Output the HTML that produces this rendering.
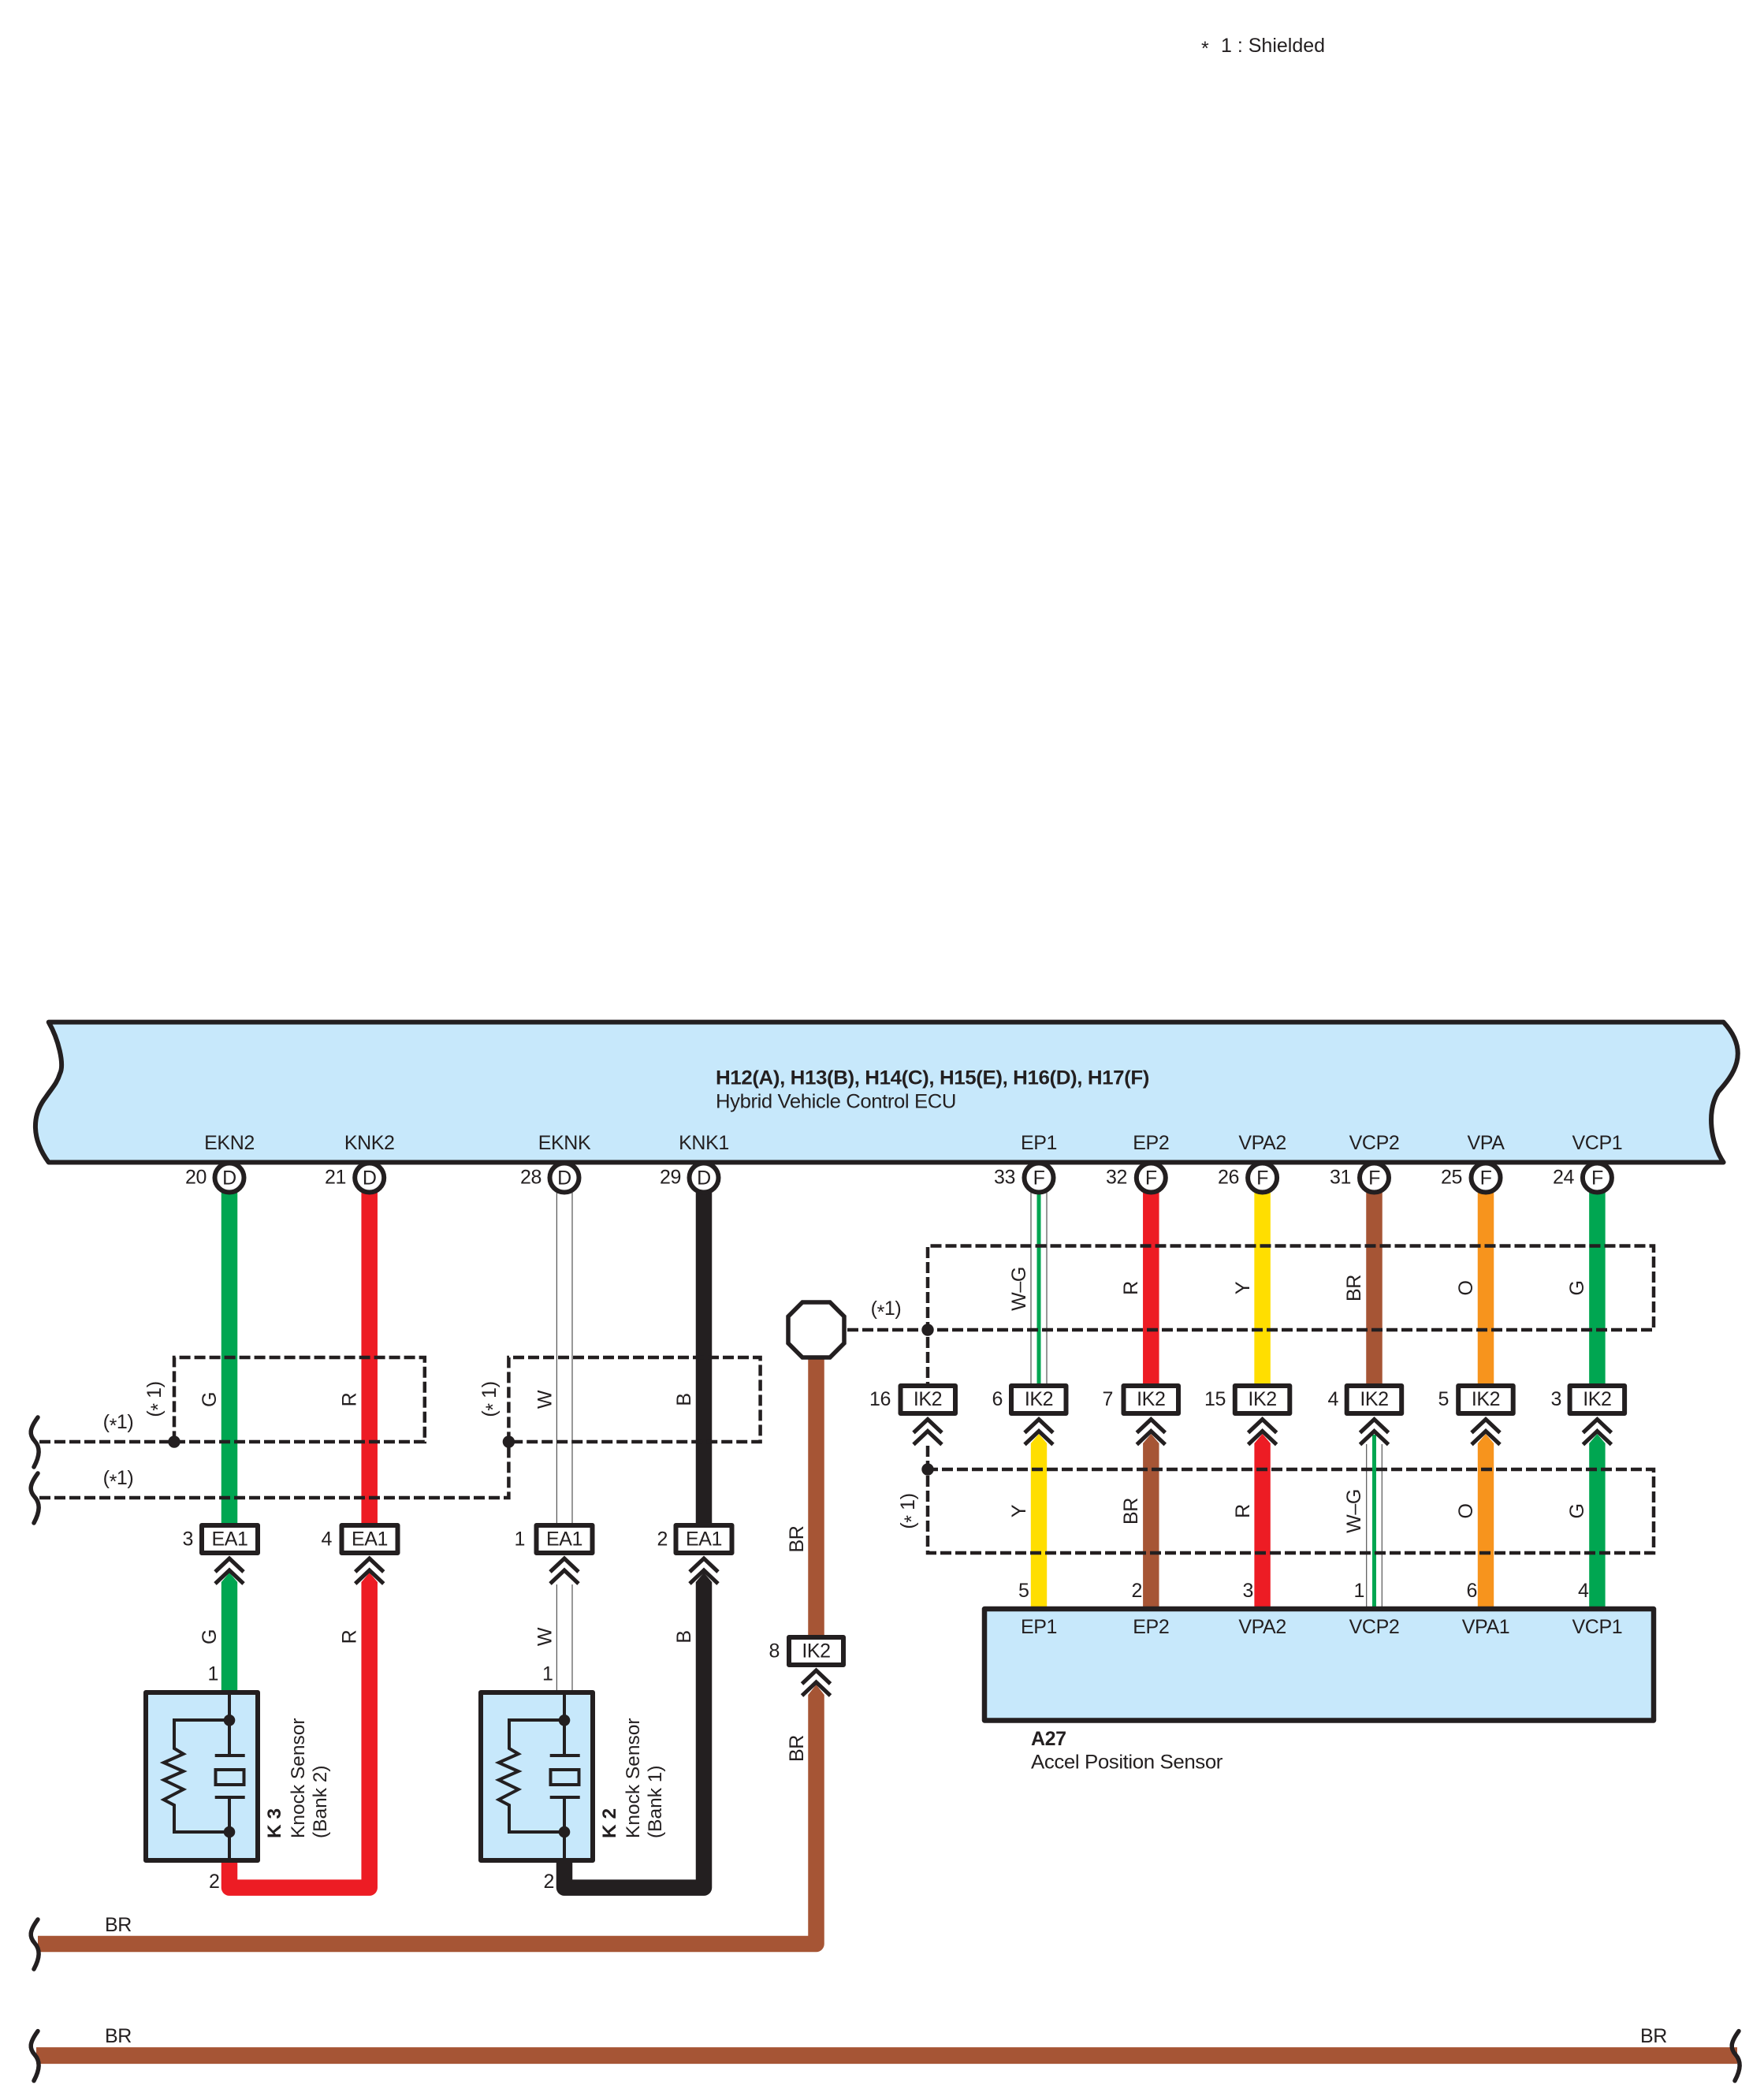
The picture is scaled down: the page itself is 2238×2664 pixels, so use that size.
<!DOCTYPE html>
<html><head><meta charset="utf-8">
<style>
html,body{margin:0;padding:0;background:#fff;width:2238px;height:2664px;overflow:hidden}
svg{display:block}
text{font-family:"Liberation Sans",sans-serif;font-size:25px;letter-spacing:-0.4px;fill:#231f20}
.m{text-anchor:middle}.e{text-anchor:end}.b{font-weight:bold}
.n{font-size:24.5px;letter-spacing:0}
.d{fill:none;stroke:#231f20;stroke-width:4.5;stroke-dasharray:14 5}
.box{fill:#fff;stroke:#231f20;stroke-width:6;stroke-linejoin:round}
.ring{fill:#fff;stroke:#231f20;stroke-width:6}
.c{fill:none;stroke:#231f20;stroke-width:5}
.w{fill:none;stroke-width:20.5}
.t{stroke:#555;stroke-width:1.2;fill:none}
.l{fill:none;stroke:#231f20;stroke-width:4}
.br{fill:none;stroke:#231f20;stroke-width:5.5;stroke-linecap:round}
</style></head><body>
<svg xmlns="http://www.w3.org/2000/svg" width="2238" height="2664" viewBox="0 0 2238 2664">
<defs>
<g id="ch"><polyline class="c" points="-18,17 0,0 18,17"/><polyline class="c" points="-18,32 0,15 18,32"/></g>
<path id="brace" class="br" d="M2 -31 C-9 -16 -9 -9 -2 -1 C5 7 5 17 -3 32"/>
<g id="ksensor">
<rect x="185" y="2147" width="142" height="213" fill="#c7e8fb" stroke="#231f20" stroke-width="6" stroke-linejoin="round"/>
<path class="l" d="M291 2147V2227M272.7 2227H310.7M291 2280V2360M272.7 2280H310.7"/>
<rect class="l" x="273.5" y="2245" width="36" height="19"/>
<path class="l" d="M291 2182H221V2218L232.7 2225L207.7 2236L232.7 2247L207.7 2258L232.7 2270L207.7 2283L221 2290V2324H291"/>
<circle cx="291" cy="2182.3" r="7.3" fill="#231f20"/><circle cx="291" cy="2324" r="7.3" fill="#231f20"/>
</g>
</defs>

<!-- ECU -->
<path d="M61.7 1296.6 C74 1318 82 1350 76 1362 C72 1375 66 1380 58 1392 C40 1415 40 1445 61.7 1474.5 H2186.6 C2170 1450 2165 1410 2180 1385 C2198 1365 2222 1335 2186.6 1296.6 Z" fill="#c7e8fb" stroke="#231f20" stroke-width="6" stroke-linejoin="round"/>
<text class="b" x="908" y="1375.5" textLength="550" lengthAdjust="spacingAndGlyphs">H12(A), H13(B), H14(C), H15(E), H16(D), H17(F)</text>
<text x="908" y="1405.5" textLength="305" lengthAdjust="spacingAndGlyphs">Hybrid Vehicle Control ECU</text>
<text x="1524" y="70" style="font-size:25px">*</text>
<text x="1549" y="66" style="letter-spacing:0">1 : Shielded</text>

<!-- upper wires -->
<path class="w" stroke="#00a651" d="M291 1510V1934"/>
<path class="w" stroke="#ed1c24" d="M468.7 1510V1934"/>
<path class="w" stroke="#231f20" d="M893 1510V1934"/>
<path class="t" d="M706.4 1510V1934M726 1510V1934"/>
<path class="t" d="M1308 1510V1758M1328 1510V1758"/>
<path d="M1318 1510V1758" stroke="#00a651" stroke-width="5" fill="none"/>
<path class="w" stroke="#ed1c24" d="M1460.3 1510V1758"/>
<path class="w" stroke="#ffde00" d="M1601.6 1510V1758"/>
<path class="w" stroke="#a65535" d="M1743.5 1510V1758"/>
<path class="w" stroke="#f7941d" d="M1885 1510V1758"/>
<path class="w" stroke="#00a651" d="M2026.4 1510V1758"/>
<!-- brown drop -->
<path class="w" stroke="#a65535" d="M1035.5 1720V2078"/>

<!-- lower left wires -->
<path d="M280.8 2147V2007L291 1995L301.2 2007V2147Z" fill="#00a651"/>
<path class="w" stroke="#ed1c24" stroke-linejoin="round" d="M291 2358V2394.6H468.7V2007"/>
<polygon points="458.5,2007 468.7,1995 478.9,2007" fill="#ed1c24"/>
<path class="w" stroke="#231f20" stroke-linejoin="round" d="M716 2358V2394.6H893V2007"/>
<polygon points="882.8,2007 893,1995 903.2,2007" fill="#231f20"/>
<path class="t" d="M706.4 2010V2147M726 2010V2147"/>
<path class="w" stroke="#a65535" stroke-linejoin="round" stroke-width="21" d="M48 2466H1035.5V2150"/>
<polygon points="1025.3,2150 1035.5,2137 1045.7,2150" fill="#a65535"/>
<path d="M46 2607.6H2204" stroke="#a65535" stroke-width="21" fill="none"/>

<!-- lower right wires -->
<path d="M1307.8 2043V1831L1318 1819L1328.2 1831V2043Z" fill="#ffde00"/>
<path d="M1450.1 2043V1831L1460.3 1819L1470.5 1831V2043Z" fill="#a65535"/>
<path d="M1591.4 2043V1831L1601.6 1819L1611.8 1831V2043Z" fill="#ed1c24"/>
<path class="t" d="M1733.7 1832V2041M1753.3 1832V2041"/>
<path d="M1743.5 1820V2041" stroke="#00a651" stroke-width="5" fill="none"/>
<path d="M1874.8 2043V1831L1885 1819L1895.2 1831V2043Z" fill="#f7941d"/>
<path d="M2016.2 2043V1831L2026.4 1819L2036.6 1831V2043Z" fill="#00a651"/>

<!-- dashed shields -->
<path class="d" d="M50 1829H538.8V1722H221V1829"/>
<path class="d" d="M50 1900H645.4V1722H964.6V1829H645.4"/>
<path class="d" d="M1075 1687H2098V1580.5H1177V1756"/>
<path class="d" d="M1177 1834V1970H2098V1864H1177"/>
<circle cx="221" cy="1829" r="7.7" fill="#231f20"/>
<circle cx="645.4" cy="1829" r="7.7" fill="#231f20"/>
<circle cx="1177" cy="1687" r="7.7" fill="#231f20"/>
<circle cx="1177" cy="1864" r="7.7" fill="#231f20"/>

<!-- braces -->
<use href="#brace" x="46" y="1829"/>
<use href="#brace" x="46" y="1900"/>
<use href="#brace" x="46" y="2466"/>
<use href="#brace" x="46" y="2607.6"/>
<use href="#brace" x="2204" y="2607.6"/>

<!-- octagon -->
<polygon points="1018,1652 1053,1652 1071,1670 1071,1704 1053,1722 1018,1722 1000,1704 1000,1670" fill="#fff" stroke="#231f20" stroke-width="5.5" stroke-linejoin="miter"/>

<!-- ECU pin rings -->
<circle class="ring" cx="291" cy="1494" r="18.5"/><circle class="ring" cx="468.7" cy="1494" r="18.5"/>
<circle class="ring" cx="716" cy="1494" r="18.5"/><circle class="ring" cx="893" cy="1494" r="18.5"/>
<circle class="ring" cx="1318" cy="1494" r="18.5"/><circle class="ring" cx="1460.3" cy="1494" r="18.5"/>
<circle class="ring" cx="1601.6" cy="1494" r="18.5"/><circle class="ring" cx="1743.5" cy="1494" r="18.5"/>
<circle class="ring" cx="1885" cy="1494" r="18.5"/><circle class="ring" cx="2026.4" cy="1494" r="18.5"/>
<path d="M61.7 1474.5H2186.6" stroke="#231f20" stroke-width="6" fill="none"/>

<text class="m" x="291" y="1458">EKN2</text><text class="m" x="468.7" y="1458">KNK2</text>
<text class="m" x="716" y="1458">EKNK</text><text class="m" x="893" y="1458">KNK1</text>
<text class="m" x="1318" y="1458">EP1</text><text class="m" x="1460.3" y="1458">EP2</text>
<text class="m" x="1601.6" y="1458">VPA2</text><text class="m" x="1743.5" y="1458">VCP2</text>
<text class="m" x="1885" y="1458">VPA</text><text class="m" x="2026.4" y="1458">VCP1</text>

<text class="m" x="291" y="1502.5">D</text><text class="m" x="468.7" y="1502.5">D</text>
<text class="m" x="716" y="1502.5">D</text><text class="m" x="893" y="1502.5">D</text>
<text class="m" x="1318" y="1502.5">F</text><text class="m" x="1460.3" y="1502.5">F</text>
<text class="m" x="1601.6" y="1502.5">F</text><text class="m" x="1743.5" y="1502.5">F</text>
<text class="m" x="1885" y="1502.5">F</text><text class="m" x="2026.4" y="1502.5">F</text>

<text class="e" x="262" y="1501.5">20</text><text class="e" x="439" y="1501.5">21</text>
<text class="e" x="687" y="1501.5">28</text><text class="e" x="864" y="1501.5">29</text>
<text class="e" x="1288" y="1501.5">33</text><text class="e" x="1430" y="1501.5">32</text>
<text class="e" x="1572" y="1501.5">26</text><text class="e" x="1714" y="1501.5">31</text>
<text class="e" x="1855" y="1501.5">25</text><text class="e" x="1997" y="1501.5">24</text>

<!-- EA1 connectors -->
<rect class="box" x="256" y="1935" width="71" height="35"/><rect class="box" x="433.5" y="1935" width="71" height="35"/>
<rect class="box" x="680.5" y="1935" width="71" height="35"/><rect class="box" x="857.5" y="1935" width="71" height="35"/>
<text class="m" x="291.5" y="1960.5">EA1</text><text class="m" x="469" y="1960.5">EA1</text>
<text class="m" x="716" y="1960.5">EA1</text><text class="m" x="893" y="1960.5">EA1</text>
<text class="e" x="245" y="1960.5">3</text><text class="e" x="421" y="1960.5">4</text>
<text class="e" x="666" y="1960.5">1</text><text class="e" x="847" y="1960.5">2</text>
<use href="#ch" x="291" y="1977"/><use href="#ch" x="468.7" y="1977"/>
<use href="#ch" x="716" y="1977"/><use href="#ch" x="893" y="1977"/>

<!-- IK2 connectors -->
<rect class="box" x="1142.5" y="1758" width="69.5" height="35"/>
<rect class="box" x="1283" y="1758" width="69.5" height="35"/>
<rect class="box" x="1425.5" y="1758" width="69.5" height="35"/>
<rect class="box" x="1566.8" y="1758" width="69.5" height="35"/>
<rect class="box" x="1708.7" y="1758" width="69.5" height="35"/>
<rect class="box" x="1850.2" y="1758" width="69.5" height="35"/>
<rect class="box" x="1991.6" y="1758" width="69.5" height="35"/>
<rect class="box" x="1001" y="2077" width="69" height="35"/>
<text class="m" x="1177" y="1783">IK2</text><text class="m" x="1318" y="1783">IK2</text>
<text class="m" x="1460.3" y="1783">IK2</text><text class="m" x="1601.6" y="1783">IK2</text>
<text class="m" x="1743.5" y="1783">IK2</text><text class="m" x="1885" y="1783">IK2</text>
<text class="m" x="2026.4" y="1783">IK2</text><text class="m" x="1035.5" y="2102.5">IK2</text>
<text class="e" x="1130" y="1783">16</text><text class="e" x="1272" y="1783">6</text>
<text class="e" x="1412" y="1783">7</text><text class="e" x="1555" y="1783">15</text>
<text class="e" x="1698" y="1783">4</text><text class="e" x="1838" y="1783">5</text>
<text class="e" x="1981" y="1783">3</text><text class="e" x="989" y="2102.5">8</text>
<use href="#ch" x="1177" y="1800.5"/><use href="#ch" x="1318" y="1800.5"/>
<use href="#ch" x="1460.3" y="1800.5"/><use href="#ch" x="1601.6" y="1800.5"/>
<use href="#ch" x="1743.5" y="1800.5"/><use href="#ch" x="1885" y="1800.5"/>
<use href="#ch" x="2026.4" y="1800.5"/><use href="#ch" x="1035.5" y="2119"/>

<!-- sensors -->
<use href="#ksensor"/>
<use href="#ksensor" x="425"/>
<text class="b n" transform="translate(356,2332) rotate(-90)">K 3</text>
<text class="n" transform="translate(386,2332) rotate(-90)">Knock Sensor</text>
<text class="n" transform="translate(414,2332) rotate(-90)">(Bank 2)</text>
<text class="b n" transform="translate(781,2332) rotate(-90)">K 2</text>
<text class="n" transform="translate(811,2332) rotate(-90)">Knock Sensor</text>
<text class="n" transform="translate(839,2332) rotate(-90)">(Bank 1)</text>

<text class="e" x="277" y="2131.5">1</text><text class="e" x="701.5" y="2131.5">1</text>
<text class="e" x="278.5" y="2395">2</text><text class="e" x="703" y="2395">2</text>

<!-- A27 -->
<rect x="1249" y="2041" width="849" height="141.5" fill="#c7e8fb" stroke="#231f20" stroke-width="6.5" stroke-linejoin="round"/>
<text class="m" x="1318" y="2072">EP1</text><text class="m" x="1460.3" y="2072">EP2</text>
<text class="m" x="1601.6" y="2072">VPA2</text><text class="m" x="1743.5" y="2072">VCP2</text>
<text class="m" x="1885" y="2072">VPA1</text><text class="m" x="2026.4" y="2072">VCP1</text>
<text class="b" x="1308" y="2214">A27</text>
<text x="1308" y="2243.5" textLength="243" lengthAdjust="spacingAndGlyphs">Accel Position Sensor</text>
<text class="e" x="1305.5" y="2026">5</text><text class="e" x="1449" y="2026">2</text>
<text class="e" x="1590" y="2026">3</text><text class="e" x="1731" y="2026">1</text>
<text class="e" x="1874" y="2026">6</text><text class="e" x="2015.5" y="2026">4</text>

<!-- rotated wire labels -->
<text class="m" transform="translate(274,1775.5) rotate(-90)">G</text>
<text class="m" transform="translate(451.5,1775.5) rotate(-90)">R</text>
<text class="m" transform="translate(699.5,1775.5) rotate(-90)">W</text>
<text class="m" transform="translate(876,1775.5) rotate(-90)">B</text>
<text class="m" transform="translate(274,2076.5) rotate(-90)">G</text>
<text class="m" transform="translate(451.5,2076.5) rotate(-90)">R</text>
<text class="m" transform="translate(699.5,2076.5) rotate(-90)">W</text>
<text class="m" transform="translate(876,2076.5) rotate(-90)">B</text>
<text class="m" transform="translate(1019,1952.5) rotate(-90)">BR</text>
<text class="m" transform="translate(1019,2218) rotate(-90)">BR</text>
<text class="m" transform="translate(1301,1635) rotate(-90)">W–G</text>
<text class="m" transform="translate(1443,1634) rotate(-90)">R</text>
<text class="m" transform="translate(1585,1634) rotate(-90)">Y</text>
<text class="m" transform="translate(1726,1634) rotate(-90)">BR</text>
<text class="m" transform="translate(1868,1634) rotate(-90)">O</text>
<text class="m" transform="translate(2009,1634) rotate(-90)">G</text>
<text class="m" transform="translate(1301,1917) rotate(-90)">Y</text>
<text class="m" transform="translate(1443,1917) rotate(-90)">BR</text>
<text class="m" transform="translate(1585,1917) rotate(-90)">R</text>
<text class="m" transform="translate(1726,1917) rotate(-90)">W–G</text>
<text class="m" transform="translate(1868,1917) rotate(-90)">O</text>
<text class="m" transform="translate(2009,1917) rotate(-90)">G</text>
<text class="m" transform="translate(204,1775) rotate(-90)">(<tspan dy="5">*</tspan><tspan dy="-5"> 1</tspan>)</text>
<text class="m" transform="translate(629,1775) rotate(-90)">(<tspan dy="5">*</tspan><tspan dy="-5"> 1</tspan>)</text>
<text class="m" transform="translate(1160,1917) rotate(-90)">(<tspan dy="5">*</tspan><tspan dy="-5"> 1</tspan>)</text>
<text class="m" x="150" y="1812">(<tspan dy="5">*</tspan><tspan dy="-5">1</tspan>)</text>
<text class="m" x="150" y="1883">(<tspan dy="5">*</tspan><tspan dy="-5">1</tspan>)</text>
<text class="m" x="1124" y="1668">(<tspan dy="5">*</tspan><tspan dy="-5">1</tspan>)</text>
<text x="133" y="2450">BR</text>
<text x="133" y="2591">BR</text>
<text x="2081" y="2591">BR</text>
</svg>
</body></html>
